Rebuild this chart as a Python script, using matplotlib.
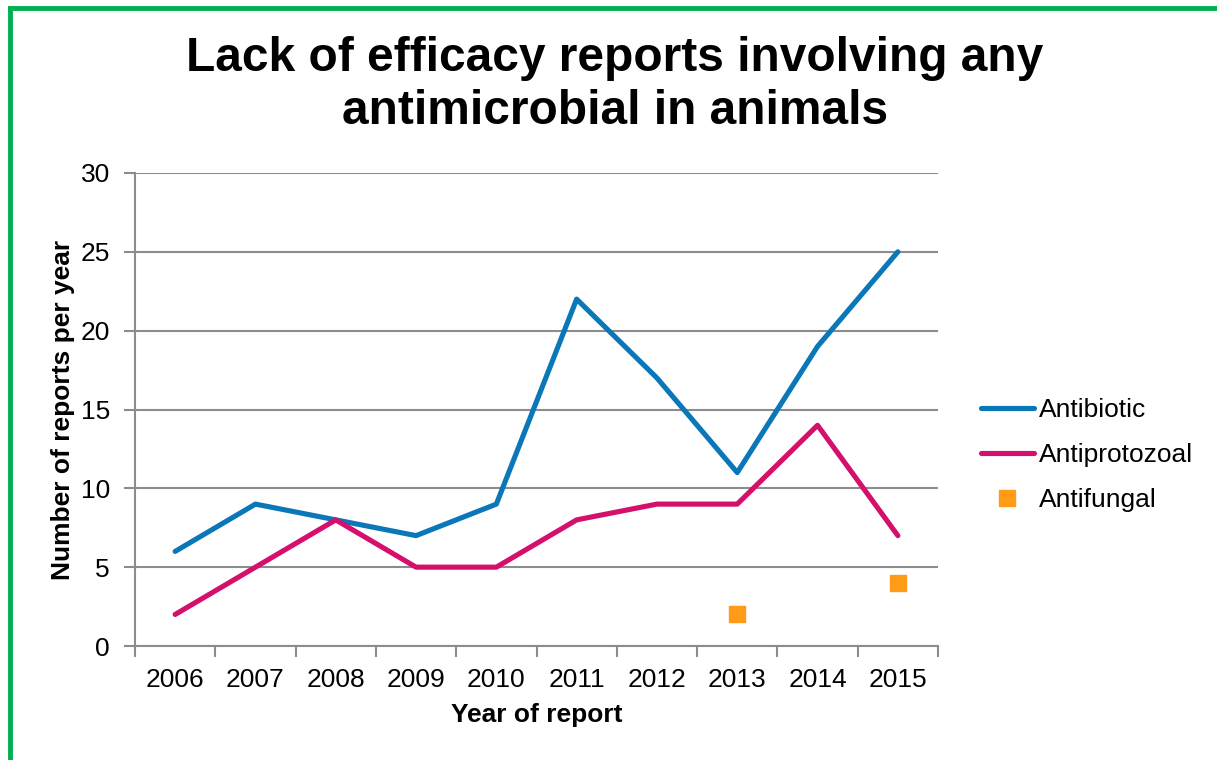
import matplotlib.pyplot as plt
from matplotlib.lines import Line2D
import numpy as np

years = ['2006', '2007', '2008', '2009', '2010', '2011', '2012', '2013', '2014', '2015']
antibiotic = [6, 9, 8, 7, 9, 22, 17, 11, 19, 25]
antiprotozoal = [2, 5, 8, 5, 5, 8, 9, 9, 14, 7]
antifungal = [np.nan, np.nan, np.nan, np.nan, np.nan, np.nan, np.nan, 2, np.nan, 4]

plt.rcParams['font.family'] = ['Liberation Sans', 'DejaVu Sans']

fig = plt.figure(figsize=(12.17, 7.6), dpi=100)
ax = fig.add_axes([135 / 1217, 1 - 646 / 760, (938 - 135) / 1217, (646 - 173) / 760])

x = np.arange(len(years))
ax.plot(x, antibiotic, color='#0A77B8', linewidth=3.7, solid_capstyle='round', label='Antibiotic')
ax.plot(x, antiprotozoal, color='#D4106C', linewidth=3.7, solid_capstyle='round', label='Antiprotozoal')
ax.plot(x, antifungal, linestyle='none', marker='s', markersize=11, color='#FF9B17', label='Antifungal')

ax.set_xlim(-0.5, len(years) - 0.5)
ax.set_ylim(0, 30)
ax.set_yticks(np.arange(0, 31, 5))
ax.set_xticks(x)
ax.set_xticklabels(years)
ax.set_xticks(np.arange(-0.5, len(years), 1), minor=True)
ax.tick_params(axis='x', which='major', length=0, labelsize=19, pad=16)
ax.tick_params(axis='x', which='minor', length=8, color='#8C8C8C', width=1.5)
ax.tick_params(axis='y', length=8, color='#8C8C8C', width=1.5, labelsize=19, pad=10)
ax.grid(axis='y', color='#8C8C8C', linewidth=1.5)
ax.set_axisbelow(True)
for s in ['top', 'right']:
    ax.spines[s].set_visible(False)
for s in ['left', 'bottom']:
    ax.spines[s].set_color('#8C8C8C')
    ax.spines[s].set_linewidth(1.5)

ax.set_xlabel('Year of report', fontsize=19, fontweight='bold', labelpad=8)
ax.set_ylabel('Number of reports per year', fontsize=19, fontweight='bold', labelpad=4)

fig.text(615 / 1217, 1 - 85 / 760, 'Lack of efficacy reports involving any\nantimicrobial in animals',
         ha='center', va='center', fontsize=34.5, fontweight='bold', linespacing=1.25)

ax.legend(loc='center left', bbox_to_anchor=(957 / 1217, 1 - 455 / 760), bbox_transform=fig.transFigure,
          frameon=False, fontsize=19, handlelength=2.0, handletextpad=0.2, labelspacing=0.8)

# green slide frame (left and top edges)
fig.add_artist(Line2D([10 / 1217, 10 / 1217], [0, 1 - 8 / 760], color='#00B050', linewidth=3.5,
                      transform=fig.transFigure, solid_capstyle='projecting'))
fig.add_artist(Line2D([10 / 1217, 1], [1 - 8 / 760, 1 - 8 / 760], color='#00B050', linewidth=3.5,
                      transform=fig.transFigure, solid_capstyle='projecting'))

fig.savefig('out.png', dpi=100)
